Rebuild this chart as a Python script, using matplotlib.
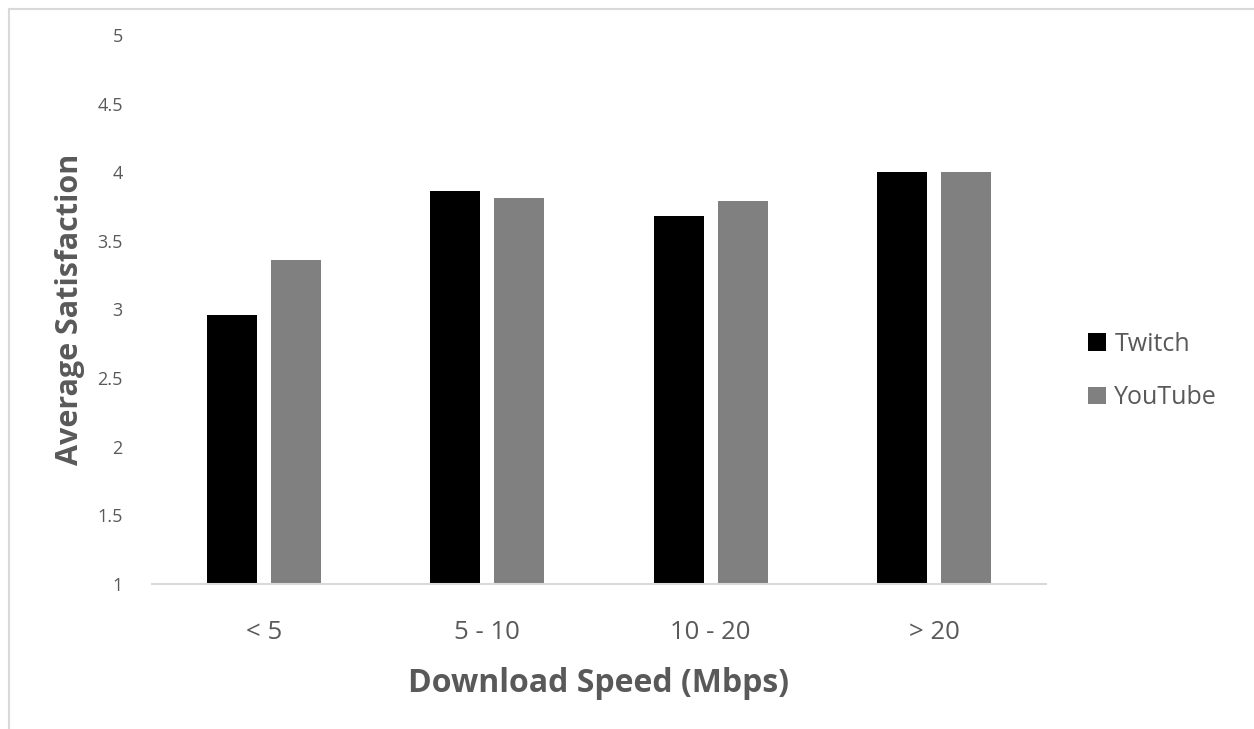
import numpy as np
import matplotlib
matplotlib.use('Agg')
import matplotlib.pyplot as plt
from matplotlib.lines import Line2D

plt.rcParams['font.family'] = ['Open Sans', 'DejaVu Sans']

# 数据
categories = ['< 5', '5 - 10', '10 - 20', '> 20']
twitch = [2.96, 3.86, 3.68, 4.0]
youtube = [3.36, 3.81, 3.79, 4.0]
yticks = [1, 1.5, 2, 2.5, 3, 3.5, 4, 4.5, 5]
ytick_labels = ['1', '1.5', '2', '2.5', '3', '3.5', '4', '4.5', '5']

text_color = '#595959'

fig = plt.figure(figsize=(12.54, 7.29), dpi=100)

# 左边和上边的浅灰边框
bx = 8.5 / 1254
by = 1 - 8.5 / 729
fig.add_artist(Line2D([bx, bx], [0, by], transform=fig.transFigure, color='#d9d9d9', linewidth=1.5))
fig.add_artist(Line2D([bx, 1], [by, by], transform=fig.transFigure, color='#d9d9d9', linewidth=1.5))

ax = fig.add_axes([152 / 1254, 145 / 729, 894 / 1254, 549 / 729])

x = np.arange(len(categories))
w = 0.224
ax.bar(x - 0.143, twitch, w, bottom=0, color='#000000', label='Twitch')
ax.bar(x + 0.143, youtube, w, bottom=0, color='#808080', label='YouTube')

ax.set_ylim(1, 5)
ax.set_xlim(-0.5, len(categories) - 0.5)
ax.set_yticks(yticks)
ax.set_yticklabels(ytick_labels)
ax.set_xticks(x)
ax.set_xticklabels(categories)

for s in ['top', 'right', 'left']:
    ax.spines[s].set_visible(False)
ax.spines['bottom'].set_color('#d9d9d9')
ax.spines['bottom'].set_linewidth(1.5)

ax.tick_params(axis='y', length=0, pad=21, labelsize=13, labelcolor=text_color)
ax.tick_params(axis='x', length=0, pad=26, labelsize=18.5, labelcolor=text_color)

ax.set_xlabel('Download Speed (Mbps)', fontsize=23, fontweight='bold', color=text_color, labelpad=16)
ax.set_ylabel('Average Satisfaction', fontsize=22, fontweight='bold', color=text_color, labelpad=9)

leg = ax.legend(loc='center left', bbox_to_anchor=(1.022, 0.388), frameon=False, fontsize=18,
                handlelength=0.7, handleheight=0.7, handletextpad=0.35, labelspacing=1.15)
for t in leg.get_texts():
    t.set_color(text_color)

plt.savefig('out.png', dpi=100)
